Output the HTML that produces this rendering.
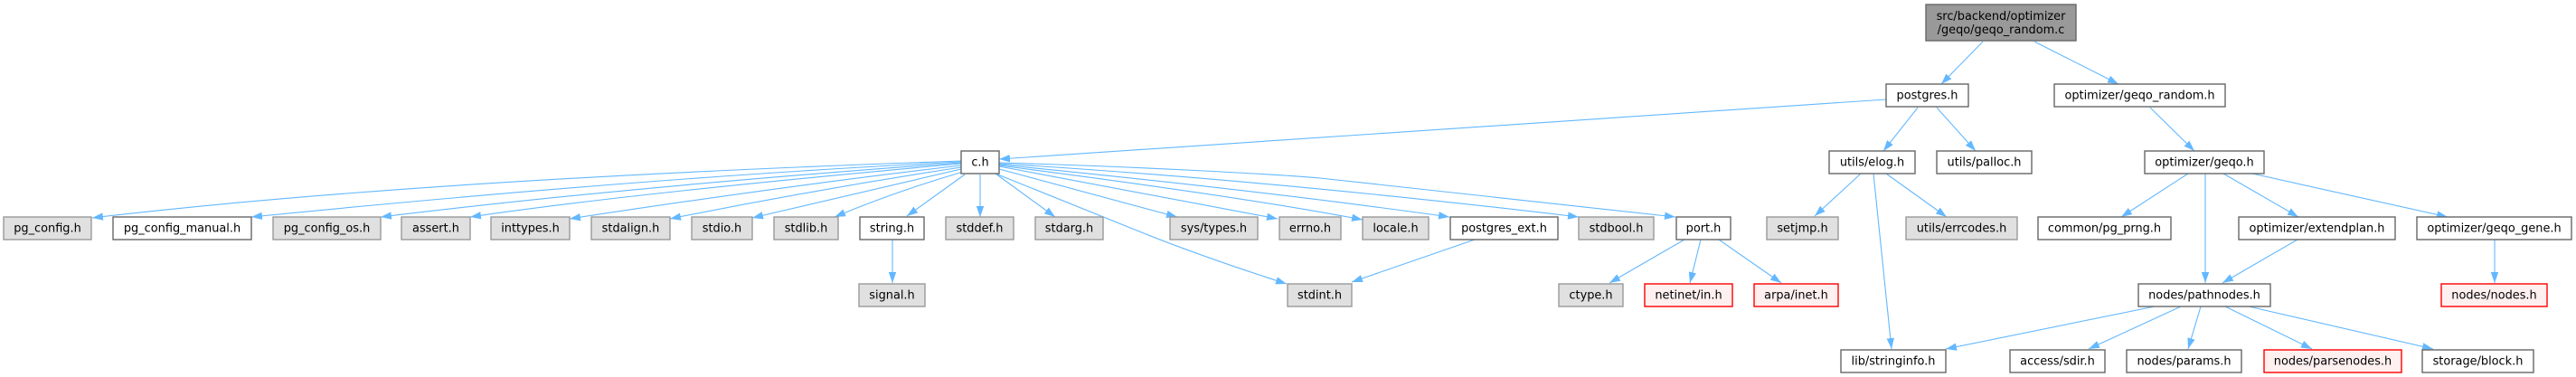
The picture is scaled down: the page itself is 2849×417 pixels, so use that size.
<!DOCTYPE html>
<html><head><meta charset="utf-8"><style>
html,body{margin:0;padding:0;background:#fff;}
body{width:2849px;height:417px;overflow:hidden;}
svg{display:block;}
text{font-family:"DejaVu Sans","Liberation Sans",sans-serif;font-size:12.9px;fill:#000;text-anchor:middle;}
.e{fill:none;stroke:#63b8ff;stroke-width:1.1;marker-end:url(#ah);}
.w{fill:#fff;stroke:#666;stroke-width:1.4;}
.g{fill:#e0e0e0;stroke:#999;stroke-width:1.4;}
.r{fill:#fff0f0;stroke:#f00;stroke-width:1.4;}
.root{fill:#999;stroke:#666;stroke-width:1.4;}
</style></head><body>
<svg width="2849" height="417" viewBox="0 0 2849 417" xmlns="http://www.w3.org/2000/svg">
<defs>
<marker id="ah" markerWidth="13" markerHeight="10" refX="12" refY="4.2" orient="auto" markerUnits="userSpaceOnUse">
<path d="M0,0 L12,4.2 L0,8.4 z" fill="#63b8ff"/>
</marker>
</defs>

<!-- edges -->
<path class="e" d="M2193,46 L2147,93"/>
<path class="e" d="M2250,46 L2343,93"/>
<path class="e" d="M2086,110 L1105,176"/>
<path class="e" d="M2121,119 L2083,167"/>
<path class="e" d="M2142,119 L2185,167"/>
<path class="e" d="M2378,119 L2427,167"/>

<!-- c.h fan left -->
<path class="e" d="M1063,178 Q455,199 102,241"/>
<path class="e" d="M1063,179 Q720,196 278,240"/>
<path class="e" d="M1063,180 Q700,206 421,240"/>
<path class="e" d="M1063,181 Q695,214 520,240"/>
<path class="e" d="M1063,183 Q865,206 630,242"/>
<path class="e" d="M1063,185 Q900,210 741,242"/>
<path class="e" d="M1063,187 L832,241"/>
<path class="e" d="M1065,190 Q990,212 923,240"/>
<path class="e" d="M1067,193 L1003,239"/>
<path class="e" d="M1084,193 L1084,240"/>
<path class="e" d="M1101,192 L1167,240"/>
<!-- c.h fan right -->
<path class="e" d="M1105,187 L1302,240"/>
<path class="e" d="M1105,184 L1413,242"/>
<path class="e" d="M1101,192 Q1200,232 1265,258 T1423,314"/>
<path class="e" d="M1105,183 Q1377,218 1507,243"/>
<path class="e" d="M1105,182 Q1398,211 1603,240"/>
<path class="e" d="M1105,181 Q1403,199 1746,240"/>
<path class="e" d="M1105,180 C1250,184 1400,192 1460,197 L1853,240"/>

<!-- other edges -->
<path class="e" d="M987,265 L987,313"/>
<path class="e" d="M1631,265 L1495,312"/>
<path class="e" d="M1863,265 L1780,313"/>
<path class="e" d="M1881,265 L1869,313"/>
<path class="e" d="M1901,265 L1970,313"/>
<path class="e" d="M2058,192 L2007,239"/>
<path class="e" d="M2072,192 L2092,386"/>
<path class="e" d="M2086,192 L2153,240"/>
<path class="e" d="M2420,192 L2346,240"/>
<path class="e" d="M2439,192 L2439,313"/>
<path class="e" d="M2459,192 L2542,240"/>
<path class="e" d="M2491,192 L2707,240"/>
<path class="e" d="M2541,265 L2458,313"/>
<path class="e" d="M2759,265 L2759,313"/>
<path class="e" d="M2383,339 L2152,386"/>
<path class="e" d="M2412,339 L2310,386"/>
<path class="e" d="M2434,339 L2420,386"/>
<path class="e" d="M2461,339 L2557,386"/>
<path class="e" d="M2487,339 L2691,386"/>

<!-- root -->
<rect class="root" x="2130" y="5" width="166" height="40"/>
<text x="2213" y="22">src/backend/optimizer</text>
<text x="2213" y="37">/geqo/geqo_random.c</text>

<!-- rank1 -->
<rect class="w" x="2086" y="93" width="91" height="25"/><text x="2131.5" y="109.7">postgres.h</text>
<rect class="w" x="2272" y="93" width="189" height="25"/><text x="2366.5" y="109.7">optimizer/geqo_random.h</text>

<!-- rank2 -->
<rect class="w" x="1063" y="167" width="42" height="25"/><text x="1084" y="183.7">c.h</text>
<rect class="w" x="2023" y="167" width="95" height="25"/><text x="2070.5" y="183.7">utils/elog.h</text>
<rect class="w" x="2142" y="167" width="105" height="25"/><text x="2194.5" y="183.7">utils/palloc.h</text>
<rect class="w" x="2372" y="167" width="132" height="25"/><text x="2438" y="183.7">optimizer/geqo.h</text>

<!-- rank3 -->
<rect class="g" x="4" y="240" width="97" height="25"/><text x="52.5" y="256.7">pg_config.h</text>
<rect class="w" x="125" y="240" width="153" height="25"/><text x="201.5" y="256.7">pg_config_manual.h</text>
<rect class="g" x="302" y="240" width="119" height="25"/><text x="361.5" y="256.7">pg_config_os.h</text>
<rect class="g" x="444" y="240" width="76" height="25"/><text x="482" y="256.7">assert.h</text>
<rect class="g" x="543" y="240" width="87" height="25"/><text x="586.5" y="256.7">inttypes.h</text>
<rect class="g" x="654" y="240" width="87" height="25"/><text x="697.5" y="256.7">stdalign.h</text>
<rect class="g" x="765" y="240" width="67" height="25"/><text x="798.5" y="256.7">stdio.h</text>
<rect class="g" x="856" y="240" width="71" height="25"/><text x="891.5" y="256.7">stdlib.h</text>
<rect class="w" x="951" y="240" width="71" height="25"/><text x="986.5" y="256.7">string.h</text>
<rect class="g" x="1046" y="240" width="75" height="25"/><text x="1083.5" y="256.7">stddef.h</text>
<rect class="g" x="1145" y="240" width="75" height="25"/><text x="1182.5" y="256.7">stdarg.h</text>
<rect class="g" x="1294" y="240" width="97" height="25"/><text x="1342.5" y="256.7">sys/types.h</text>
<rect class="g" x="1415" y="240" width="68" height="25"/><text x="1449" y="256.7">errno.h</text>
<rect class="g" x="1507" y="240" width="73" height="25"/><text x="1543.5" y="256.7">locale.h</text>
<rect class="w" x="1604" y="240" width="119" height="25"/><text x="1663.5" y="256.7">postgres_ext.h</text>
<rect class="g" x="1746" y="240" width="83" height="25"/><text x="1787.5" y="256.7">stdbool.h</text>
<rect class="w" x="1854" y="240" width="60" height="25"/><text x="1884" y="256.7">port.h</text>
<rect class="g" x="1954" y="240" width="79" height="25"/><text x="1993.5" y="256.7">setjmp.h</text>
<rect class="g" x="2108" y="240" width="123" height="25"/><text x="2169.5" y="256.7">utils/errcodes.h</text>
<rect class="w" x="2254" y="240" width="147" height="25"/><text x="2327.5" y="256.7">common/pg_prng.h</text>
<rect class="w" x="2476" y="240" width="173" height="25"/><text x="2562.5" y="256.7">optimizer/extendplan.h</text>
<rect class="w" x="2673" y="240" width="171" height="25"/><text x="2758.5" y="256.7">optimizer/geqo_gene.h</text>

<!-- rank4 -->
<rect class="g" x="950" y="314" width="73" height="25"/><text x="986.5" y="330.7">signal.h</text>
<rect class="g" x="1424" y="314" width="71" height="25"/><text x="1459.5" y="330.7">stdint.h</text>
<rect class="g" x="1724" y="314" width="71" height="25"/><text x="1759.5" y="330.7">ctype.h</text>
<rect class="r" x="1819" y="314" width="97" height="25"/><text x="1867.5" y="330.7">netinet/in.h</text>
<rect class="r" x="1940" y="314" width="93" height="25"/><text x="1986.5" y="330.7">arpa/inet.h</text>
<rect class="w" x="2365" y="314" width="146" height="25"/><text x="2438" y="330.7">nodes/pathnodes.h</text>
<rect class="r" x="2700" y="314" width="117" height="25"/><text x="2758.5" y="330.7">nodes/nodes.h</text>

<!-- rank5 -->
<rect class="w" x="2036" y="387" width="116" height="25"/><text x="2094" y="403.7">lib/stringinfo.h</text>
<rect class="w" x="2223" y="387" width="105" height="25"/><text x="2275.5" y="403.7">access/sdir.h</text>
<rect class="w" x="2352" y="387" width="127" height="25"/><text x="2415.5" y="403.7">nodes/params.h</text>
<rect class="r" x="2504" y="387" width="152" height="25"/><text x="2580" y="403.7">nodes/parsenodes.h</text>
<rect class="w" x="2679" y="387" width="123" height="25"/><text x="2740.5" y="403.7">storage/block.h</text>
</svg>
</body></html>
